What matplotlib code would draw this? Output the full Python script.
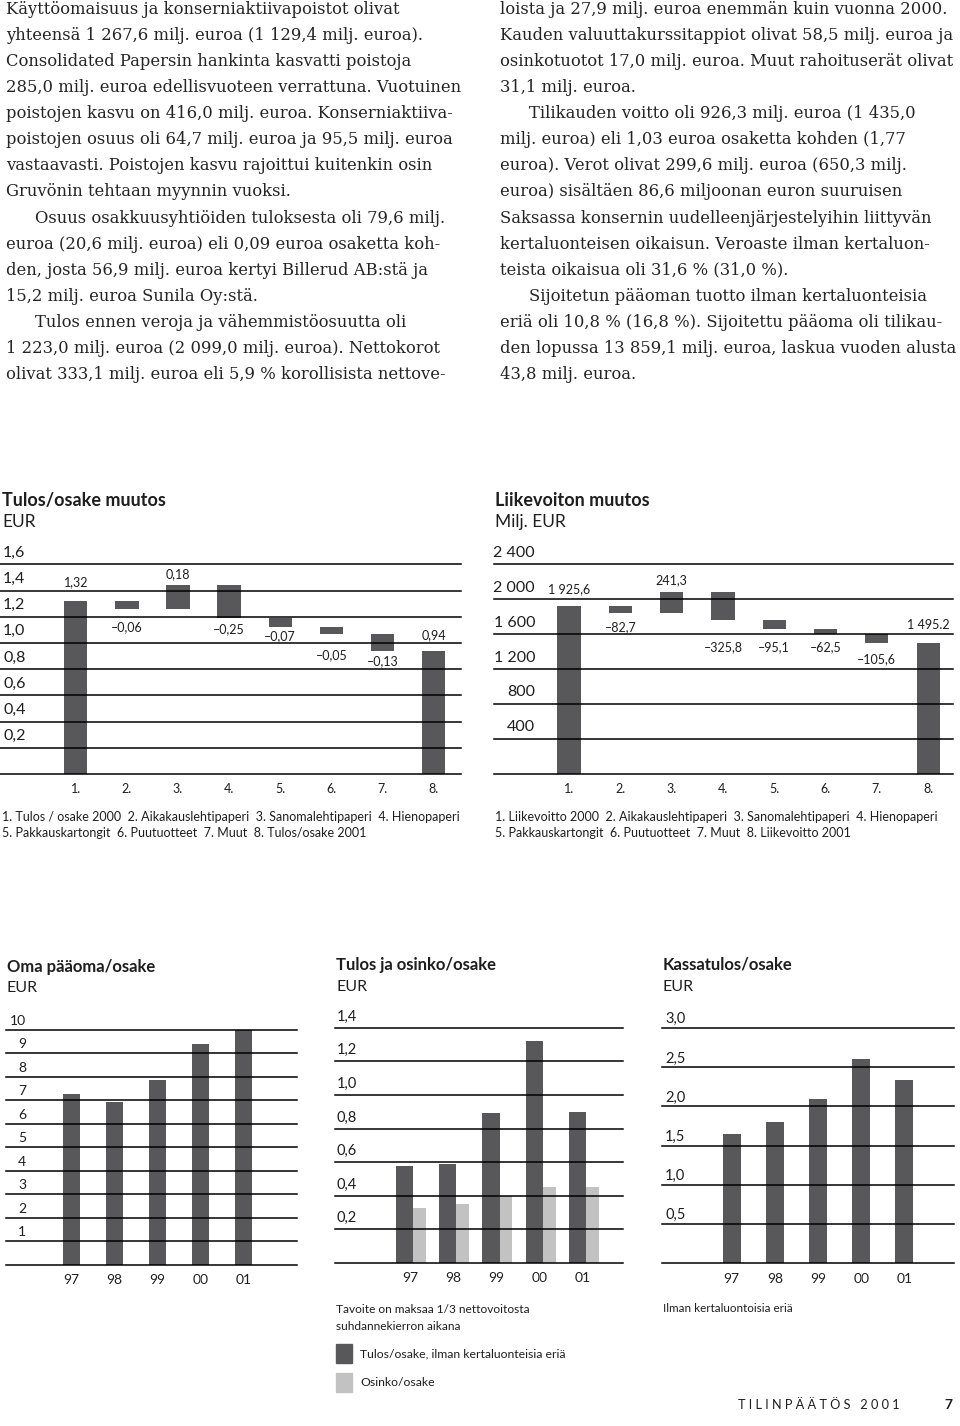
import matplotlib
matplotlib.use('Agg')
from matplotlib import pyplot as plt

W, H = 960, 1426
plt.rcParams['font.family'] = ['Lato', 'DejaVu Sans']

# --- data -------------------------------------------------------------
step_ticks = ['1.', '2.', '3.', '4.', '5.', '6.', '7.', '8.']

eps_change = [1.32, -0.06, 0.18, -0.25, -0.07, -0.05, -0.13, 0.94]
eps_change_labels = ['1,32', '–0,06', '0,18', '–0,25', '–0,07', '–0,05', '–0,13', '0,94']
eps_yticks = [0, 0.2, 0.4, 0.6, 0.8, 1.0, 1.2, 1.4, 1.6]
eps_ytick_labels = ['', '0,2', '0,4', '0,6', '0,8', '1,0', '1,2', '1,4', '1,6']

ebit_change = [1925.6, -82.7, 241.3, -325.8, -95.1, -62.5, -105.6, 1495.2]
ebit_change_labels = ['1 925,6', '–82,7', '241,3', '–325,8', '–95,1', '–62,5', '–105,6', '1 495.2']
ebit_yticks = [0, 400, 800, 1200, 1600, 2000, 2400]
ebit_ytick_labels = ['', '400', '800', '1 200', '1 600', '2 000', '2 400']

years = ['97', '98', '99', '00', '01']
equity_ps = [7.26, 6.92, 7.86, 9.40, 10.0]
equity_yticks = [0, 1, 2, 3, 4, 5, 6, 7, 8, 9, 10]
equity_ytick_labels = ['', '1', '2', '3', '4', '5', '6', '7', '8', '9', '10']

eps_ex = [0.58, 0.59, 0.89, 1.32, 0.90]
dividend_ps = [0.33, 0.35, 0.40, 0.45, 0.45]
div_yticks = [0, 0.2, 0.4, 0.6, 0.8, 1.0, 1.2, 1.4]
div_ytick_labels = ['', '0,2', '0,4', '0,6', '0,8', '1,0', '1,2', '1,4']

cash_eps = [1.65, 1.80, 2.09, 2.61, 2.34]
cash_yticks = [0, 0.5, 1.0, 1.5, 2.0, 2.5, 3.0]
cash_ytick_labels = ['', '0,5', '1,0', '1,5', '2,0', '2,5', '3,0']

left_text = [
    'Käyttöomaisuus ja konserniaktiivapoistot olivat',
    'yhteensä 1 267,6 milj. euroa (1 129,4 milj. euroa).',
    'Consolidated Papersin hankinta kasvatti poistoja',
    '285,0 milj. euroa edellisvuoteen verrattuna. Vuotuinen',
    'poistojen kasvu on 416,0 milj. euroa. Konserniaktiiva-',
    'poistojen osuus oli 64,7 milj. euroa ja 95,5 milj. euroa',
    'vastaavasti. Poistojen kasvu rajoittui kuitenkin osin',
    'Gruvönin tehtaan myynnin vuoksi.',
    '\tOsuus osakkuusyhtiöiden tuloksesta oli 79,6 milj.',
    'euroa (20,6 milj. euroa) eli 0,09 euroa osaketta koh-',
    'den, josta 56,9 milj. euroa kertyi Billerud AB:stä ja',
    '15,2 milj. euroa Sunila Oy:stä.',
    '\tTulos ennen veroja ja vähemmistöosuutta oli',
    '1 223,0 milj. euroa (2 099,0 milj. euroa). Nettokorot',
    'olivat 333,1 milj. euroa eli 5,9 % korollisista nettove-',
]
right_text = [
    'loista ja 27,9 milj. euroa enemmän kuin vuonna 2000.',
    'Kauden valuuttakurssitappiot olivat 58,5 milj. euroa ja',
    'osinkotuotot 17,0 milj. euroa. Muut rahoituserät olivat',
    '31,1 milj. euroa.',
    '\tTilikauden voitto oli 926,3 milj. euroa (1 435,0',
    'milj. euroa) eli 1,03 euroa osaketta kohden (1,77',
    'euroa). Verot olivat 299,6 milj. euroa (650,3 milj.',
    'euroa) sisältäen 86,6 miljoonan euron suuruisen',
    'Saksassa konsernin uudelleenjärjestelyihin liittyvän',
    'kertaluonteisen oikaisun. Veroaste ilman kertaluon-',
    'teista oikaisua oli 31,6 % (31,0 %).',
    '\tSijoitetun pääoman tuotto ilman kertaluonteisia',
    'eriä oli 10,8 % (16,8 %). Sijoitettu pääoma oli tilikau-',
    'den lopussa 13 859,1 milj. euroa, laskua vuoden alusta',
    '43,8 milj. euroa.',
]

DARK = '#58585a'
LIGHT = '#c2c2c2'
INK = '#1e1e1e'

fig = plt.figure(figsize=(W / 100, H / 100), dpi=100)


def ftext(x, y, s, **kw):
    kw.setdefault('va', 'center')
    kw.setdefault('color', INK)
    fig.text(x / W, 1 - y / H, s, **kw)


def px_axes(x0, ytop, x1, ybot, xlim, ymax):
    ax = fig.add_axes([x0 / W, 1 - ybot / H, (x1 - x0) / W, (ybot - ytop) / H])
    ax.set_xlim(*xlim)
    ax.set_ylim(0, ymax)
    ax.axis('off')
    return ax


def grid(ax, ticks, labels, dx, dy, ha, size):
    for v, lab in zip(ticks, labels):
        ax.axhline(v, color='black', lw=1.1, zorder=3, clip_on=False)
        if lab:
            ax.annotate(lab, xy=(0, v), xycoords=('axes fraction', 'data'),
                        xytext=(dx, dy), textcoords='offset pixels',
                        ha=ha, va='center', fontsize=size, color=INK)


def xlabels(ax, pos, labels, dy, size):
    for p, lab in zip(pos, labels):
        ax.annotate(lab, xy=(p, 0), xytext=(0, -dy), textcoords='offset pixels',
                    ha='center', va='center', fontsize=size, color=INK)


def waterfall(ax, values, labels, width, label_dy, size):
    run = 0.0
    n = len(values)
    for i, (v, lab) in enumerate(zip(values, labels)):
        x = i + 1
        if i == 0 or i == n - 1:
            bottom, height = 0, v
            run = v
            top_y, up = v, True
        else:
            bottom = min(run, run + v)
            height = abs(v)
            up = v > 0
            run += v
            top_y = bottom + height if up else bottom
        ax.bar(x, height, bottom=bottom, width=width, color=DARK, zorder=2)
        off = label_dy[i] if up else -label_dy[i]
        ax.annotate(lab, xy=(x, top_y), xytext=(0, off), textcoords='offset pixels',
                    ha='center', va='center', fontsize=size, color=INK)


# --- body text ----------------------------------------------------------
for col, lines in ((6, left_text), (500, right_text)):
    for i, line in enumerate(lines):
        x = col
        if line.startswith('\t'):
            x += 29
            line = line[1:]
        ftext(x, 9.5 + 26.07 * i, line, fontsize=11.8, family='DejaVu Serif',
              color='#242424')

# --- chart 1: Tulos/osake muutos -----------------------------------------
ftext(2, 500, 'Tulos/osake muutos', fontsize=13, fontweight='bold')
ftext(2, 522, 'EUR', fontsize=12.5)
ax1 = px_axes(0, 564.3, 461, 774, (-0.483, 8.538), 1.6)
waterfall(ax1, eps_change, eps_change_labels, 0.456,
          [18.7, 18.4, 11, 10.7, 8.7, 21, 10.8, 15.6], 9)
grid(ax1, eps_yticks, eps_ytick_labels, 3, 11.6, 'left', 11.5)
xlabels(ax1, range(1, 9), step_ticks, 15, 9)
ftext(2, 816.7, '1. Tulos / osake 2000  2. Aikakauslehtipaperi  3. Sanomalehtipaperi  4. Hienopaperi',
      fontsize=9.0)
ftext(2, 833.3, '5. Pakkauskartongit  6. Puutuotteet  7. Muut  8. Tulos/osake 2001', fontsize=9.0)

# --- chart 2: Liikevoiton muutos -----------------------------------------
ftext(495, 500, 'Liikevoiton muutos', fontsize=13, fontweight='bold')
ftext(495, 522, 'Milj. EUR', fontsize=12.5)
ax2 = px_axes(494, 564.3, 953.3, 774, (-0.462, 8.49), 2400)
waterfall(ax2, ebit_change, ebit_change_labels, 0.454,
          [16.5, 14, 11.6, 26.6, 18.2, 12.8, 15.8, 17.9], 9)
grid(ax2, ebit_yticks, ebit_ytick_labels, 41, 11.6, 'right', 11.5)
xlabels(ax2, range(1, 9), step_ticks, 15, 9)
ftext(495, 816.7, '1. Liikevoitto 2000  2. Aikakauslehtipaperi  3. Sanomalehtipaperi  4. Hienopaperi',
      fontsize=9.0)
ftext(495, 833.3, '5. Pakkauskartongit  6. Puutuotteet  7. Muut  8. Liikevoitto 2001', fontsize=9.0)

# --- chart 3: Oma pääoma/osake -------------------------------------------
ftext(7, 966.7, 'Oma pääoma/osake', fontsize=12, fontweight='bold')
ftext(7, 988, 'EUR', fontsize=11.5)
ax3 = px_axes(6, 1029.7, 297.3, 1264.7, (-1.52, 5.24), 10)
ax3.bar(range(5), equity_ps, width=0.394, color=DARK, zorder=2)
grid(ax3, equity_yticks, equity_ytick_labels, 20, 9, 'right', 10)
xlabels(ax3, range(5), years, 15.3, 10)

# --- chart 4: Tulos ja osinko/osake --------------------------------------
ftext(336, 965, 'Tulos ja osinko/osake', fontsize=12, fontweight='bold')
ftext(336, 986.7, 'EUR', fontsize=11.5)
ax4 = px_axes(335, 1027.7, 623.3, 1263, (-1.81, 4.86), 1.4)
ax4.bar(range(5), eps_ex, width=-0.40, align='edge', color=DARK, zorder=2)
ax4.bar(range(5), dividend_ps, width=0.294, align='edge', color=LIGHT, zorder=2)
grid(ax4, div_yticks, div_ytick_labels, 1.7, 11, 'left', 10.5)
xlabels(ax4, [p - 0.07 for p in range(5)], years, 14.7, 10)
ftext(336, 1309.3, 'Tavoite on maksaa 1/3 nettovoitosta', fontsize=8.6)
ftext(336, 1326, 'suhdannekierron aikana', fontsize=8.6)
fig.patches.append(plt.Rectangle((336 / W, 1 - 1363.3 / H), 16.3 / W, 19 / H,
                                 transform=fig.transFigure, color=DARK))
ftext(360, 1354, 'Tulos/osake, ilman kertaluonteisia eriä', fontsize=8.8)
fig.patches.append(plt.Rectangle((336 / W, 1 - 1392 / H), 16.3 / W, 18.7 / H,
                                 transform=fig.transFigure, color=LIGHT))
ftext(360, 1382.7, 'Osinko/osake', fontsize=8.8)

# --- chart 5: Kassatulos/osake -------------------------------------------
ftext(663, 965, 'Kassatulos/osake', fontsize=12, fontweight='bold')
ftext(663, 986.7, 'EUR', fontsize=11.5)
ax5 = px_axes(662, 1028, 954, 1263.3, (-1.613, 5.146), 3.0)
ax5.bar(range(5), cash_eps, width=0.417, color=DARK, zorder=2)
grid(ax5, cash_yticks, cash_ytick_labels, 3, 8.7, 'left', 10.5)
xlabels(ax5, range(5), years, 16, 10)
ftext(663, 1309, 'Ilman kertaluontoisia eriä', fontsize=8.4)

# --- footer ------------------------------------------------------------
ftext(738, 1405, ' '.join('TILINPÄÄTÖS') + '   ' + ' '.join('2001'), fontsize=9.2)
ftext(944, 1405, '7', fontsize=10, fontweight='bold')

plt.savefig('out.png', dpi=100)
